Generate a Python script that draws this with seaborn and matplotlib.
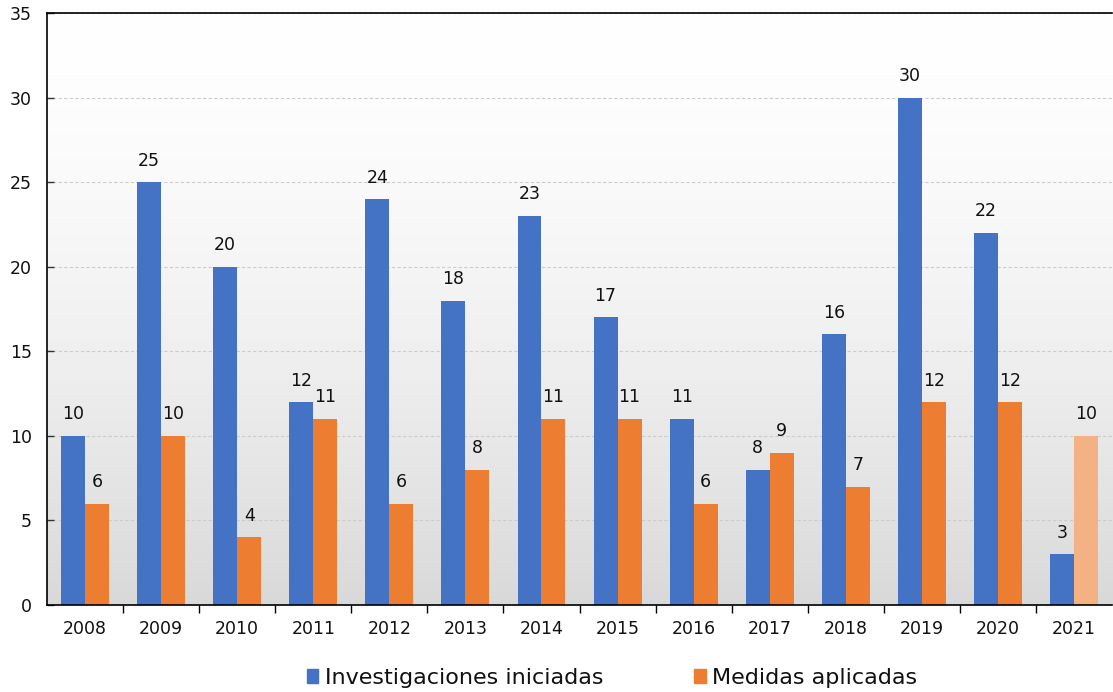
import pandas as pd
import seaborn as sns
import matplotlib.pyplot as plt
import numpy as np
from matplotlib.patches import Patch

# === Data ===
years = ["2008", "2009", "2010", "2011", "2012", "2013", "2014",
         "2015", "2016", "2017", "2018", "2019", "2020", "2021"]
investigaciones = [10, 25, 20, 12, 24, 18, 23, 17, 11, 8, 16, 30, 22, 3]
medidas = [6, 10, 4, 11, 6, 8, 11, 11, 6, 9, 7, 12, 12, 10]
series_names = ["Investigaciones iniciadas", "Medidas aplicadas"]

df = pd.DataFrame({
    "year": years * 2,
    "value": investigaciones + medidas,
    "serie": [series_names[0]] * len(years) + [series_names[1]] * len(years),
})

blue = "#4472C4"
orange = "#ED7D31"
light_orange = "#F4B183"

sns.set_style("white")
plt.rcParams["font.family"] = ["DejaVu Sans"]

fig = plt.figure(figsize=(11.13, 6.92), dpi=100)
ax = fig.add_axes([0.0422, 0.1257, 0.957, 0.8555])

# === Gradient background ===
grad = np.linspace(0, 1, 256).reshape(-1, 1)
top = np.array([1.0, 1.0, 1.0])
bottom = np.array([0.85, 0.85, 0.85])
t = grad ** 1.6
img = top + (bottom - top) * t[..., None]
ax.imshow(img.reshape(256, 1, 3), extent=[0, 1, 0, 1], transform=ax.transAxes,
          aspect="auto", zorder=0)

sns.barplot(data=df, x="year", y="value", hue="serie",
            palette=[blue, orange], width=0.63, saturation=1,
            legend=False, ax=ax, zorder=3, linewidth=0)

# last medidas bar (2021) is lighter
bars_medidas = ax.containers[1]
bars_medidas[-1].set_facecolor(light_orange)

for cont in ax.containers:
    ax.bar_label(cont, padding=9, fontsize=12.5, color="#111111")

ax.set_ylim(0, 35)
ax.set_xlim(-0.5, len(years) - 0.5)
ax.set_yticks(range(0, 36, 5))
ax.yaxis.grid(True, linestyle=(0, (3, 2)), color="#cccccc", linewidth=0.8, zorder=1)
ax.set_axisbelow(False)
ax.set_xlabel("")
ax.set_ylabel("")

# ticks between categories
ax.set_xticks(np.arange(len(years)))
ax.set_xticklabels(years)
ax.set_xticks(np.arange(len(years) - 1) + 0.5, minor=True)
ax.tick_params(axis="x", which="major", bottom=False, labelsize=12.5, pad=7,
               labelcolor="#111111")
ax.tick_params(axis="x", which="minor", bottom=True, length=6, width=1,
               direction="out", color="black")
ax.tick_params(axis="y", left=True, length=5, width=1, direction="in",
               labelsize=12.5, color="#333333", pad=11, labelcolor="#111111")

for side in ["left", "bottom", "top"]:
    ax.spines[side].set_visible(True)
    ax.spines[side].set_color("black")
    ax.spines[side].set_linewidth(1.2)
    ax.spines[side].set_zorder(5)
ax.spines["right"].set_visible(False)

handles = [Patch(color=blue), Patch(color=orange)]
fig.legend(handles, series_names, loc="center", bbox_to_anchor=(0.55, 0.02),
           ncol=2, frameon=False, fontsize=16, handlelength=0.5, handleheight=0.6,
           handletextpad=0.3, columnspacing=4.1, labelcolor="#111111")

fig.savefig("out.png", dpi=100)
